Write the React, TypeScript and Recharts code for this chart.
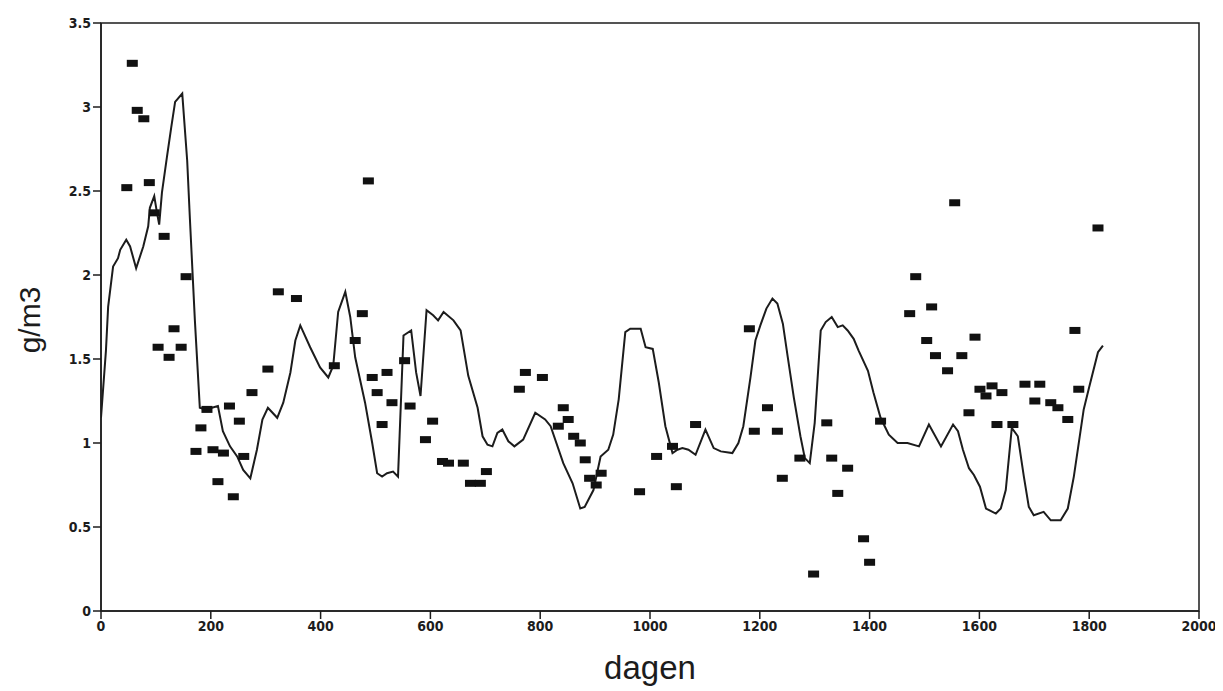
import React from "react";
import {
  ComposedChart,
  Line,
  Scatter,
  XAxis,
  YAxis,
  ReferenceArea,
} from "recharts";

// model curve (dagen -> g/m3)
const lineDays = [
  0, 9, 13, 22, 31, 35, 46, 53, 64, 77,
  86, 89, 97, 102, 106, 111, 120, 128, 135, 148,
  157, 162, 171, 180, 190, 202, 213, 222, 235, 248,
  259, 272, 284, 294, 304, 321, 332, 345, 354, 363,
  381, 399, 414, 423, 432, 445, 454, 463, 481, 494,
  503, 512, 521, 532, 541, 551, 565, 574, 582, 593,
  605, 614, 624, 642, 655, 669, 686, 695, 704, 713,
  722, 731, 742, 753, 769, 791, 809, 819, 842, 859,
  873, 881, 897, 910, 924, 933, 943, 955, 964, 983,
  992, 1005, 1016, 1028, 1041, 1050, 1059, 1070, 1083, 1101,
  1116, 1129, 1150, 1161, 1170, 1183, 1192, 1201, 1212, 1223,
  1232, 1242, 1251, 1262, 1274, 1282, 1291, 1300, 1311, 1320,
  1331, 1342, 1351, 1360, 1371, 1380, 1397, 1407, 1420, 1435,
  1451, 1469, 1490, 1508, 1530, 1552, 1561, 1570, 1581, 1590,
  1601, 1612, 1630, 1639, 1648, 1659, 1670, 1681, 1690, 1699,
  1717, 1730, 1748, 1761, 1772, 1790, 1799, 1816, 1825,
];
const lineValues = [
  1.15, 1.55, 1.81, 2.05, 2.1, 2.15, 2.21, 2.17, 2.04, 2.17,
  2.29, 2.4, 2.47, 2.37, 2.3, 2.49, 2.7, 2.88, 3.03, 3.08,
  2.68, 2.33, 1.73, 1.21, 1.2, 1.21, 1.22, 1.07, 0.98, 0.92,
  0.84, 0.79, 0.96, 1.14, 1.21, 1.15, 1.24, 1.42, 1.61, 1.7,
  1.57, 1.45, 1.39, 1.46, 1.78, 1.9, 1.75, 1.51, 1.24, 1.0,
  0.82, 0.8, 0.82, 0.83, 0.8, 1.64, 1.67, 1.42, 1.28, 1.79,
  1.76, 1.73, 1.78, 1.73, 1.67, 1.4, 1.21, 1.04, 0.99, 0.98,
  1.06, 1.08, 1.01, 0.98, 1.02, 1.18, 1.14, 1.1, 0.88, 0.76,
  0.61, 0.62, 0.72, 0.92, 0.96, 1.05, 1.26, 1.66, 1.68, 1.68,
  1.57, 1.56, 1.36, 1.1, 0.94, 0.96, 0.97, 0.96, 0.93, 1.08,
  0.97, 0.95, 0.94, 1.0, 1.1, 1.39, 1.61, 1.7, 1.8, 1.86,
  1.83, 1.71, 1.51, 1.27, 1.04, 0.91, 0.88, 1.12, 1.67, 1.72,
  1.75, 1.69, 1.7, 1.67, 1.62, 1.55, 1.43, 1.3, 1.15, 1.05,
  1.0, 1.0, 0.98, 1.11, 0.98, 1.11, 1.07, 0.96, 0.85, 0.81,
  0.74, 0.61, 0.58, 0.61, 0.72, 1.09, 1.04, 0.8, 0.62, 0.57,
  0.59, 0.54, 0.54, 0.61, 0.8, 1.2, 1.32, 1.54, 1.58,
];

// measured samples
const sampleDays = [
  47, 57, 66, 78, 88, 97, 104, 115, 124, 133,
  146, 155, 173, 182, 193, 204, 213, 223, 234, 241,
  252, 260, 275, 304, 323, 356, 425, 463, 476, 487,
  494, 503, 512, 521, 530, 553, 563, 591, 604, 622,
  633, 660, 673, 691, 702, 762, 773, 804, 833, 842,
  851, 861, 873, 882, 890, 902, 911, 981, 1012, 1041,
  1048, 1083, 1181, 1190, 1214, 1232, 1241, 1273, 1298, 1322,
  1331, 1342, 1360, 1389, 1400, 1420, 1473, 1484, 1504, 1513,
  1520, 1542, 1555, 1568, 1581, 1592, 1601, 1612, 1623, 1632,
  1641, 1661, 1683, 1701, 1710, 1730, 1743, 1761, 1774, 1781,
  1816,
];
const sampleValues = [
  2.52, 3.26, 2.98, 2.93, 2.55, 2.37, 1.57, 2.23, 1.51, 1.68,
  1.57, 1.99, 0.95, 1.09, 1.2, 0.96, 0.77, 0.94, 1.22, 0.68,
  1.13, 0.92, 1.3, 1.44, 1.9, 1.86, 1.46, 1.61, 1.77, 2.56,
  1.39, 1.3, 1.11, 1.42, 1.24, 1.49, 1.22, 1.02, 1.13, 0.89,
  0.88, 0.88, 0.76, 0.76, 0.83, 1.32, 1.42, 1.39, 1.1, 1.21,
  1.14, 1.04, 1.0, 0.9, 0.79, 0.75, 0.82, 0.71, 0.92, 0.98,
  0.74, 1.11, 1.68, 1.07, 1.21, 1.07, 0.79, 0.91, 0.22, 1.12,
  0.91, 0.7, 0.85, 0.43, 0.29, 1.13, 1.77, 1.99, 1.61, 1.81,
  1.52, 1.43, 2.43, 1.52, 1.18, 1.63, 1.32, 1.28, 1.34, 1.11,
  1.3, 1.11, 1.35, 1.25, 1.35, 1.24, 1.21, 1.14, 1.67, 1.32,
  2.28,
];

const xTicks = [0, 200, 400, 600, 800, 1000, 1200, 1400, 1600, 1800, 2000];
const yTicks = [0, 0.5, 1, 1.5, 2, 2.5, 3, 3.5];

const lineData = lineDays.map((d, i) => ({ x: d, y: lineValues[i] }));
const sampleData = sampleDays.map((d, i) => ({ x: d, y: sampleValues[i] }));

const INK = "#1c1c1c";
const tickStyle = {
  fill: INK,
  fontSize: 14,
  fontWeight: 700,
  fontFamily: "'Liberation Sans Narrow', 'DejaVu Sans Condensed', sans-serif",
};

const SampleMark = (props: any) => {
  const { cx, cy } = props;
  if (cx == null || cy == null) return null;
  return <rect x={cx - 5.5} y={cy - 3.5} width={11} height={7} fill="#111" />;
};

export default function App() {
  return (
    <div style={{ position: "relative", width: 1215, height: 683 }}>
      <ComposedChart
        width={1215}
        height={683}
        margin={{ top: 15, right: 24, bottom: 50, left: 33 }}
      >
        <XAxis
          dataKey="x"
          type="number"
          domain={[0, 2000]}
          ticks={xTicks}
          tick={tickStyle}
          tickSize={8}
          height={30}
          axisLine={{ stroke: INK, strokeWidth: 1.5 }}
          tickLine={{ stroke: INK, strokeWidth: 1.5 }}
          allowDataOverflow
        />
        <YAxis
          type="number"
          domain={[0, 3.5]}
          ticks={yTicks}
          tick={tickStyle}
          tickSize={8}
          width={60}
          axisLine={{ stroke: INK, strokeWidth: 1.5 }}
          tickLine={{ stroke: INK, strokeWidth: 1.5 }}
          allowDataOverflow
        />
        <ReferenceArea
          x1={0}
          x2={2000}
          y1={0}
          y2={3.5}
          fill="none"
          stroke={INK}
          strokeWidth={1.5}
          ifOverflow="visible"
        />
        <Line
          data={lineData}
          dataKey="y"
          type="linear"
          stroke={INK}
          strokeWidth={2}
          dot={false}
          activeDot={false}
          isAnimationActive={false}
        />
        <Scatter
          data={sampleData}
          dataKey="y"
          shape={SampleMark}
          isAnimationActive={false}
        />
      </ComposedChart>
      <div
        style={{
          position: "absolute",
          left: 22,
          top: 312,
          transform: "translate(-50%, -50%) rotate(-90deg)",
          fontFamily: "'Liberation Sans', Arial, sans-serif",
          fontSize: 30,
          color: INK,
          whiteSpace: "nowrap",
        }}
      >
        g/m3
      </div>
      <div
        style={{
          position: "absolute",
          left: 642,
          top: 660,
          transform: "translate(-50%, -50%)",
          fontFamily: "'Liberation Sans', Arial, sans-serif",
          fontSize: 33,
          color: INK,
          whiteSpace: "nowrap",
        }}
      >
        dagen
      </div>
    </div>
  );
}
